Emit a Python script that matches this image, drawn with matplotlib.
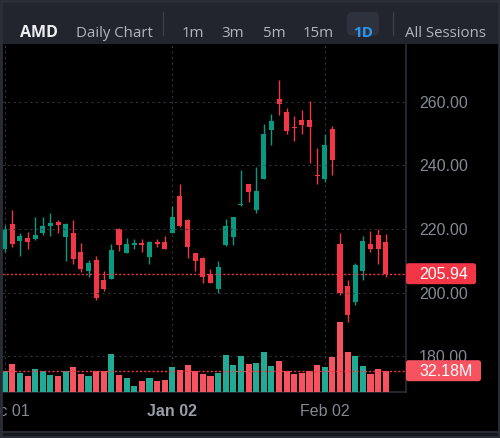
import matplotlib
matplotlib.use('Agg')
import matplotlib.pyplot as plt
from matplotlib.patches import Rectangle, FancyBboxPatch
import numpy as np

# daily candles, Dec 01 .. Feb 12
opens = [213.6, 221.7, 216.2, 217.2, 216.8, 218.9, 220.9, 222.2, 217.5, 218.6,
         212.7, 206.7, 210.3, 204.0, 204.4, 220.0, 212.6, 214.9, 215.7, 211.3,
         216.0, 215.9, 218.8, 230.3, 222.7, 212.3, 211.0, 206.0, 201.1, 214.9,
         217.5, 227.6, 234.2, 226.0, 235.8, 251.3, 261.0, 256.7, 252.0, 254.2,
         254.4, 237.0, 235.6, 251.5, 215.3, 202.0, 197.0, 206.8, 215.2, 218.2,
         215.9]
highs = [221.3, 226.0, 218.7, 219.1, 223.7, 223.7, 225.1, 222.7, 221.8, 222.7,
         215.7, 210.2, 211.6, 206.7, 215.3, 220.2, 217.2, 216.8, 216.9, 216.2,
         216.9, 217.9, 227.4, 234.2, 223.1, 212.4, 211.1, 207.3, 210.0, 223.1,
         223.9, 238.5, 234.3, 239.5, 253.0, 256.2, 266.9, 258.0, 255.6, 257.5,
         260.4, 245.4, 250.0, 252.5, 218.7, 204.1, 209.4, 217.9, 219.5, 220.0,
         218.5]
lows = [212.9, 214.2, 211.6, 213.8, 216.5, 218.2, 217.8, 218.6, 210.0, 209.0,
        206.4, 205.0, 197.7, 200.5, 204.3, 213.2, 212.4, 213.8, 212.9, 209.0,
        214.2, 213.6, 218.6, 220.5, 210.9, 206.9, 203.1, 203.0, 200.0, 214.8,
        214.9, 227.1, 228.6, 225.0, 235.6, 246.4, 255.9, 250.0, 247.7, 250.0,
        240.9, 234.3, 234.8, 236.9, 199.2, 190.7, 196.2, 204.1, 212.9, 209.1,
        205.0]
closes = [219.9, 215.3, 217.8, 215.9, 218.2, 221.1, 221.8, 221.2, 221.5, 210.6,
          207.3, 209.3, 198.2, 201.0, 213.5, 214.9, 215.2, 215.5, 215.0, 215.9,
          215.3, 213.8, 223.7, 220.8, 214.2, 210.0, 204.8, 203.1, 208.0, 221.1,
          223.7, 227.9, 231.7, 231.9, 249.9, 253.9, 259.5, 251.0, 251.8, 252.7,
          252.0, 236.7, 246.4, 241.8, 200.0, 192.8, 208.7, 216.1, 213.7, 213.7,
          205.94]
# volume in millions
volumes = [31.7, 41.7, 29.2, 24.6, 34.2, 31.2, 26.2, 24.6, 31.2, 37.2,
           27.7, 24.6, 32.2, 31.2, 57.8, 26.2, 21.6, 9.1, 17.1, 21.6,
           17.1, 18.6, 37.2, 32.7, 40.2, 31.7, 27.7, 24.6, 28.2, 56.3,
           40.2, 54.8, 42.3, 43.8, 60.9, 38.7, 46.8, 31.7, 26.7, 28.7,
           32.2, 40.2, 37.2, 52.8, 105.1, 60.9, 54.8, 38.7, 26.7, 34.2,
           32.18]

date_ticks = [0, 22, 42]
date_labels = ['Dec 01', 'Jan 02', 'Feb 02']
price_ticks = [180, 200, 220, 240, 260]
intervals = ['1m', '3m', '5m', '15m', '1D']

UP, DOWN = '#089981', '#f23645'
VUP, VDOWN = '#22ab94', '#f7525f'
GRID = '#30343d'

W, H = 500, 438
fig = plt.figure(figsize=(W / 100, H / 100), dpi=100)
fig.patch.set_facecolor('#000000')

x = np.arange(len(closes))
o, h, l, c = map(np.array, (opens, highs, lows, closes))
up = c >= o
ccol = np.where(up, UP, DOWN)
vcol = np.where(up, VUP, VDOWN)

rect = [2 / W, 46 / H, 404 / W, 348.5 / H]
ax = fig.add_axes(rect, zorder=1)
vax = fig.add_axes(rect, zorder=2)

# price panel
ax.set_facecolor('#000000')
ax.set_xlim(-0.354, 52.66)
ax.set_ylim(168.7, 278.4)
ax.vlines(x, l, h, colors=ccol, linewidth=1)
ax.bar(x, np.maximum(np.abs(c - o), 0.3), bottom=np.minimum(o, c), width=0.66, color=ccol)
ax.axhline(c[-1], color=DOWN, linestyle=(0, (1.5, 1.5)), linewidth=1)

ax.grid(True, color=GRID, linestyle=(0, (2, 3)), linewidth=0.8)
ax.yaxis.tick_right()
ax.set_yticks(price_ticks, [f'{p:.2f}' for p in price_ticks])
ax.tick_params(axis='y', length=0, pad=9.4, labelsize=11.5, labelcolor='#868992')
ax.set_xticks(date_ticks, date_labels)
ax.tick_params(axis='x', length=0, pad=8.4, labelsize=11.5, labelcolor='#868992')
for lab in ax.get_xticklabels():
    lab.set_fontfamily('Liberation Sans')
    if lab.get_text() == 'Jan 02':
        lab.set_fontweight('bold')
        lab.set_color('#9a9da6')
for lab in ax.get_yticklabels():
    lab.set_fontfamily('Liberation Sans')
for s in ['top', 'left']:
    ax.spines[s].set_visible(False)
for s in ['right', 'bottom']:
    ax.spines[s].set_color('#2a2e39')
    ax.spines[s].set_linewidth(1.2)

# volume panel
vax.set_facecolor('none')
vax.set_xlim(ax.get_xlim())
vax.set_ylim(0, 526.5)
vax.bar(x, volumes, width=0.8, color=vcol)
vax.axhline(volumes[-1], color=DOWN, linestyle=(0, (1.5, 1.5)), linewidth=1)
vax.set_xticks([])
vax.set_yticks([])
for s in vax.spines.values():
    s.set_visible(False)

# overlay in image pixel coordinates: header, frame, tags
ov = fig.add_axes([0, 0, 1, 1], zorder=10)
ov.set_xlim(0, W)
ov.set_ylim(H, 0)
ov.axis('off')
ov.patch.set_alpha(0)

ov.add_patch(Rectangle((0, 0), W, 43.5, fc='#22252d', ec='none'))
ov.add_patch(Rectangle((0, 431), W, 7, fc='#16181d', ec='none'))
ov.plot([0, W], [431.5, 431.5], color='#2c2f38', lw=1.2)
ov.add_patch(Rectangle((0.8, 0.8), W - 1.6, H - 1.6, fc='none', ec='#2c2f38', lw=2))

hfont = 'Open Sans'
ov.text(39, 37.3, 'AMD', ha='center', va='baseline', fontsize=11.5, fontweight='bold',
        color='#eceef2', family=hfont)
ov.text(114.5, 37.3, 'Daily Chart', ha='center', va='baseline', fontsize=10.8,
        color='#b2b5be', family=hfont)
ov.plot([162.5, 162.5], [12, 35], color='#3b3f49', lw=1)
ov.add_patch(FancyBboxPatch((347, 12), 32, 23.5, boxstyle='round,pad=0,rounding_size=5',
                            fc='#2e323c', ec='none'))
for xc, lab in zip([192.5, 233, 274, 318.5, 363], intervals):
    active = lab == '1D'
    ov.text(xc, 37.3, lab, ha='center', va='baseline', fontsize=11 if active else 10.8,
            family=hfont, color='#2996f3' if active else '#b2b5be',
            fontweight='bold' if active else 'normal')
ov.plot([392.5, 392.5], [12, 35], color='#3b3f49', lw=1)
ov.text(445.5, 37.3, 'All Sessions', ha='center', va='baseline', fontsize=10.8,
        color='#b2b5be', family=hfont)


def tag(axis, value, text, color, width):
    yimg = H - axis.transData.transform((0, value))[1]
    ov.add_patch(FancyBboxPatch((406, yimg - 10.5), width, 21,
                                boxstyle='round,pad=0,rounding_size=2.5', fc=color, ec='none'))
    ov.text(419.5, yimg + 5.8, text, ha='left', va='baseline', fontsize=11.5,
            color='white', family='Liberation Sans')


tag(ax, c[-1], f'{c[-1]:.2f}', DOWN, 70)
tag(vax, volumes[-1], f'{volumes[-1]:.2f}M', VDOWN, 75)

fig.savefig('out.png', dpi=100, facecolor=fig.get_facecolor())
